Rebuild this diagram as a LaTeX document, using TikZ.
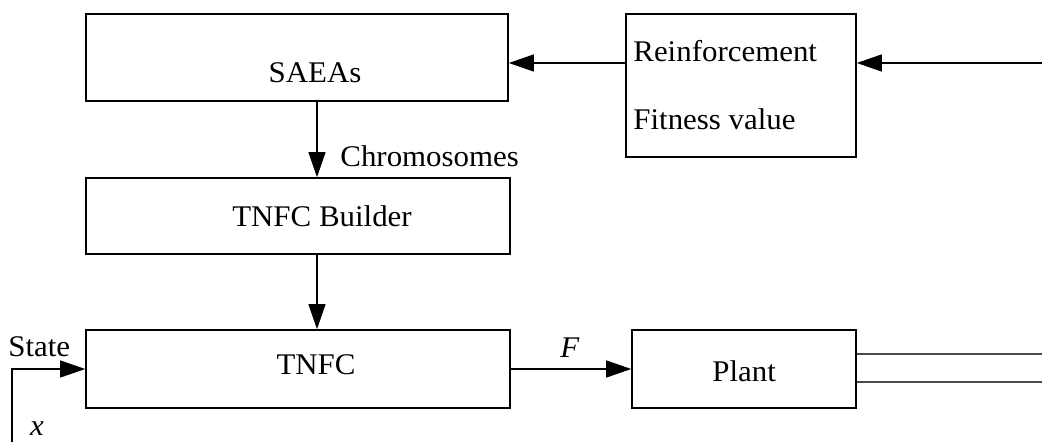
\documentclass[tikz,border=0pt]{standalone}
\usepackage{fontspec}
\setmainfont{Liberation Serif}[FakeStretch=1.03]
\usetikzlibrary{arrows.meta}
\begin{document}
\begin{tikzpicture}[x=0.5pt,y=-0.5pt,
  font=\fontsize{15}{17}\selectfont,
  blk/.style={draw,line width=0.8pt,inner sep=0pt,minimum width=#1},
  txt/.style={inner sep=0pt},
  flow/.style={line width=0.6pt,-{Triangle[length=12.5pt,width=8.5pt]}},
  outl/.style={line width=0.7pt,draw=black!70}]
\useasboundingbox (0,0) rectangle (1042,442);

% blocks
\node[blk=211pt,minimum height=43.5pt] (saeas)   at (297,57.5) {};
\node[blk=115pt,minimum height=71.5pt] (reinf)   at (741,85.5) {};
\node[blk=212pt,minimum height=38pt]   (builder) at (298,216) {};
\node[blk=212pt,minimum height=39pt]   (tnfc)    at (298,369) {};
\node[blk=112pt,minimum height=39pt]   (plant)   at (744,369) {};

% block texts
\node[txt,anchor=base] (tsaeas) at (315,83) {SAEAs};
\node[txt,anchor=base west] (treinf) at (633,62) {Reinforcement};
\node[txt,anchor=base west] (tfit) at (633,130) {Fitness value};
\node[txt,anchor=base] (tbuild) at (322,227) {TNFC Builder};
\node[txt,anchor=base] (ttnfc) at (316,375) {TNFC};
\node[txt,anchor=base west] (tplant) at (712,382) {Plant};

% signal labels
\node[txt,anchor=base west] (lchrom) at (340,167) {Chromosomes};
\node[txt,anchor=base] (lf) at (570,358) {\textit{F}};
\node[txt,anchor=base west] (lstate) at (8,357) {State};
\node[txt,anchor=base] (lx) at (37,435) {\textit{x}};

% connector end points
\coordinate (fb) at (1042,63);
\coordinate (cx) at (317,0);
\coordinate (sx) at (12,442);
\coordinate (o1) at (1042,354);
\coordinate (o2) at (1042,382);

% connectors
\draw[flow] (fb) -- (reinf.east |- fb);
\draw[flow] (reinf.west |- fb) -- (saeas.east |- fb);
\draw[flow] (saeas.south -| cx) -- (builder.north -| cx);
\draw[flow] (builder.south -| cx) -- (tnfc.north -| cx);
\draw[flow] (tnfc.east) -- (plant.west);
\draw[flow] (sx) |- (tnfc.west);
\draw[outl] (plant.east |- o1) -- (o1);
\draw[outl] (plant.east |- o2) -- (o2);
\end{tikzpicture}
\end{document}
